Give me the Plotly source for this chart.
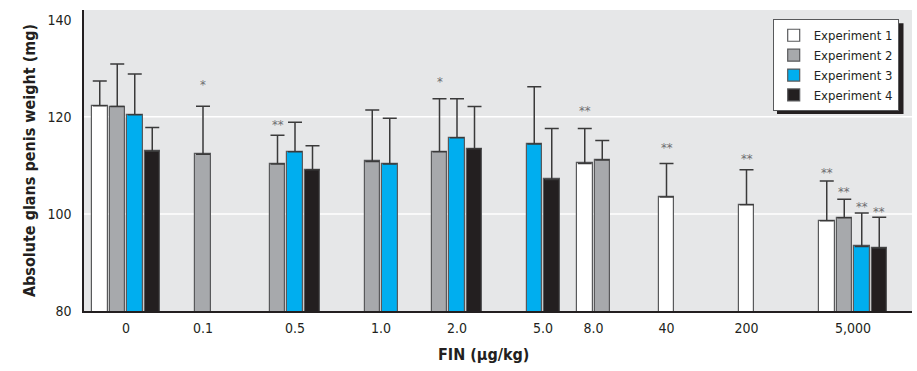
import plotly.graph_objects as go

# ---------------- data ----------------
doses = ["0", "0.1", "0.5", "1.0", "2.0", "5.0", "8.0", "40", "200", "5,000"]
series_names = ["Experiment 1", "Experiment 2", "Experiment 3", "Experiment 4"]

exp1_mean = [122.3, None, None, None, None, None, 110.4, 103.5, 101.9, 98.6]
exp1_sd   = [5.1,   None, None, None, None, None, 7.2,   6.9,   7.2,   8.2]
exp2_mean = [122.1, 112.3, 110.3, 110.8, 112.8, None, 111.1, None, None, 99.2]
exp2_sd   = [8.8,   9.9,   5.9,   10.6,  10.9,  None, 4.0,   None, None, 3.8]
exp3_mean = [120.4, None, 112.8, 110.3, 115.7, 114.4, None, None, None, 93.3]
exp3_sd   = [8.4,   None, 6.1,   9.4,   8.0,   11.8,  None, None, None, 6.9]
exp4_mean = [112.9, None, 109.1, None, 113.4, 107.1, None, None, None, 93.0]
exp4_sd   = [4.9,   None, 4.95,  None, 8.7,   10.5,  None, None, None, 6.3]

exp1_sig = ["", "", "", "", "", "", "**", "**", "**", "**"]
exp2_sig = ["", "*", "**", "", "*", "", "", "", "", "**"]
exp3_sig = ["", "", "", "", "", "", "", "", "", "**"]
exp4_sig = ["", "", "", "", "", "", "", "", "", "**"]
# heights at which the significance marks sit (mg)
exp1_sig_y = [None, None, None, None, None, None, 121.9, 114.3, 112.0, 109.2]
exp2_sig_y = [None, 127.2, 119.0, None, 127.8, None, None, None, None, 105.2]
exp3_sig_y = [None, None, None, None, None, None, None, None, None, 102.1]
exp4_sig_y = [None, None, None, None, None, None, None, None, None, 101.1]

# ---------------- layout / style ----------------
group_centers = [126, 203, 295, 381, 457, 543, 593.5, 666.5, 746.5, 853]
slot = 17.5
bar_w = 15.5
colors = ["#ffffff", "#a7a9ac", "#00aeef", "#231f20"]
FONT = "DejaVu Sans Condensed, Liberation Sans Narrow, Arial Narrow, sans-serif"

means = [exp1_mean, exp2_mean, exp3_mean, exp4_mean]
sds = [exp1_sd, exp2_sd, exp3_sd, exp4_sd]
sigs = [exp1_sig, exp2_sig, exp3_sig, exp4_sig]
sig_ys = [exp1_sig_y, exp2_sig_y, exp3_sig_y, exp4_sig_y]

# bar x positions: bars present in each group are packed and centred
xpos = [[None] * len(doses) for _ in range(4)]
for g in range(len(doses)):
    present = [s for s in range(4) if means[s][g] is not None]
    n = len(present)
    for k, s in enumerate(present):
        xpos[s][g] = group_centers[g] + (k - (n - 1) / 2) * slot

fig = go.Figure()
for s in range(4):
    xs = [xpos[s][g] for g in range(len(doses)) if means[s][g] is not None]
    ys = [means[s][g] for g in range(len(doses)) if means[s][g] is not None]
    es = [sds[s][g] for g in range(len(doses)) if means[s][g] is not None]
    fig.add_trace(go.Bar(
        x=xs, y=ys, name=series_names[s], width=bar_w,
        marker=dict(color=colors[s], line=dict(color="#58595b", width=1.2)),
        error_y=dict(type="data", array=es, symmetric=False, arrayminus=[0] * len(es),
                     color="#3a3a3a", thickness=1.5, width=7),
    ))

annotations = []
for s in range(4):
    for g in range(len(doses)):
        if sigs[s][g]:
            annotations.append(dict(
                x=xpos[s][g], y=sig_ys[s][g], xref="x", yref="y",
                text=sigs[s][g], showarrow=False, yanchor="middle",
                yshift=-3, font=dict(family=FONT, size=13, color="#6d6e71")))

annotations.append(dict(
    x=483, y=-0.145, xref="x", yref="paper", yanchor="middle",
    text="<b>FIN (μg/kg)</b>", showarrow=False,
    font=dict(family=FONT, size=16, color="#231f20")))

shapes = []
for gv in [100, 120]:
    shapes.append(dict(type="line", xref="paper", x0=0, x1=1, yref="y", y0=gv, y1=gv,
                       line=dict(color="#ffffff", width=1.5), layer="below"))
# legend drop-shadow
shapes.append(dict(type="rect", xref="x", yref="paper",
                   x0=777, x1=903.5, y0=(311 - 114) / 301, y1=(311 - 23.3) / 301,
                   fillcolor="#231f20", line=dict(width=0), layer="above"))

fig.update_layout(
    width=917, height=371,
    margin=dict(l=84, r=5, t=10, b=60, autoexpand=False),
    paper_bgcolor="#ffffff", plot_bgcolor="#e6e7e8",
    barmode="overlay", bargap=0,
    font=dict(family=FONT, size=14, color="#231f20"),
    showlegend=True,
    legend=dict(x=(772.7 - 84) / 828, y=(311 - 19.3) / 301, xanchor="left", yanchor="top",
                bgcolor="#ffffff", bordercolor="#58595b", borderwidth=1,
                font=dict(family=FONT, size=13, color="#231f20"),
                tracegroupgap=0, itemwidth=30),
    xaxis=dict(range=[84, 912], tickmode="array", tickvals=group_centers, ticktext=doses,
               showgrid=False, zeroline=False, showline=True, linecolor="#231f20",
               linewidth=1.5, ticks="", ticklabelstandoff=3, automargin=False,
               tickfont=dict(family=FONT, size=14, color="#231f20")),
    yaxis=dict(range=[80, 142], tickvals=[80, 100, 120, 140], showgrid=False,
               zeroline=False, showline=True, linecolor="#231f20", linewidth=1.5,
               ticks="", ticklabelstandoff=8, automargin=False,
               tickfont=dict(family=FONT, size=14, color="#231f20"),
               title=dict(text="<b>Absolute glans penis weight (mg)</b>", standoff=8,
                          font=dict(family=FONT, size=16, color="#231f20"))),
    annotations=annotations, shapes=shapes,
)

fig.write_html(
    "out.html",
    config={"displayModeBar": False},
    post_script="document.body.style.margin='0';document.body.style.overflow='hidden';",
)
